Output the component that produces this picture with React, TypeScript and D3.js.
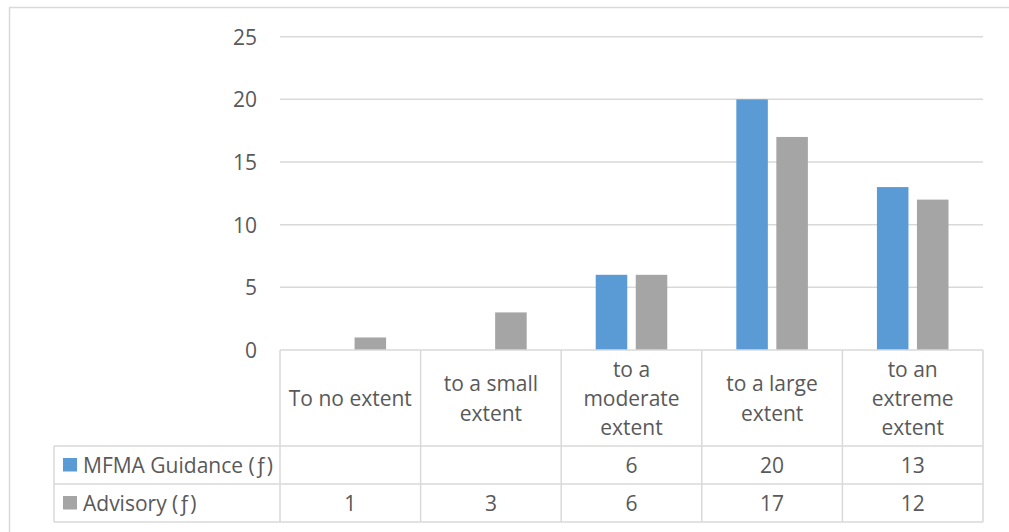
import React from "react";
import * as d3 from "d3";

const categories = [
  "To no extent",
  "to a small extent",
  "to a moderate extent",
  "to a large extent",
  "to an extreme extent",
];
const seriesNames = ["MFMA Guidance (ƒ)", "Advisory (ƒ)"];
const mfmaValues: (number | null)[] = [null, null, 6, 20, 13];
const advisoryValues: (number | null)[] = [1, 3, 6, 17, 12];
const yTicks = [0, 5, 10, 15, 20, 25];

const colors = ["#5B9BD5", "#A5A5A5"];
const FONT = "'Open Sans', sans-serif";
const FONT_SIZE = 21;
const TEXT = "#595959";
const LINE = "#D9D9D9";

const W = 1009;
const H = 532;
const plotLeft = 280;
const plotRight = 983;
const plotTop = 36.7;
const axisY = 350;
const catRowBottom = 446;
const row1Bottom = 484;
const row2Bottom = 522;
const legendLeft = 54;

let ctx: CanvasRenderingContext2D | null = null;
function measure(s: string): number {
  if (!ctx) {
    const c = document.createElement("canvas");
    ctx = c.getContext("2d");
  }
  if (!ctx) return s.length * FONT_SIZE * 0.5;
  ctx.font = `${FONT_SIZE}px ${FONT}`;
  return ctx.measureText(s).width;
}

function wrap(label: string, maxW: number): string[] {
  const words = label.split(" ");
  const lines: string[] = [];
  let cur = "";
  for (const w of words) {
    const t = cur ? cur + " " + w : w;
    if (cur && measure(t) > maxW) {
      lines.push(cur);
      cur = w;
    } else {
      cur = t;
    }
  }
  if (cur) lines.push(cur);
  return lines;
}

export default function App() {
  const x = d3.scaleBand<string>().domain(categories).range([plotLeft, plotRight]);
  const y = d3.scaleLinear().domain([0, 25]).range([axisY, plotTop]);
  const bw = x.bandwidth();
  // Excel-like clustered bars: gap width 219%, overlap -27%
  const barW = bw / (2 + 0.27 + 2.19);
  const groupOffset = (bw - barW * 2.27) / 2;
  const series = [mfmaValues, advisoryValues];
  const lineH = 29.3;
  const catMid = 398;

  return (
    <svg
      width={W}
      height={H}
      style={{ position: "absolute", left: 0, top: 0, background: "#fff" }}
      fontFamily={FONT}
      fontSize={FONT_SIZE}
    >
      <rect x={0} y={0} width={W} height={H} fill="#fff" />
      {/* chart area border */}
      <rect x={9.5} y={7.5} width={1200} height={700} fill="none" stroke={LINE} strokeWidth={1.5} />

      {/* gridlines */}
      {yTicks.filter((t) => t > 0).map((t) => (
        <line key={t} x1={plotLeft} x2={plotRight} y1={y(t)} y2={y(t)} stroke={LINE} strokeWidth={1.5} />
      ))}

      {/* y tick labels */}
      {yTicks.map((t) => (
        <text key={t} x={257} y={y(t)} textAnchor="end" dominantBaseline="central" fill={TEXT}>
          {t}
        </text>
      ))}

      {/* bars */}
      {series.map((vals, si) =>
        vals.map((v, i) =>
          v == null ? null : (
            <rect
              key={`${si}-${i}`}
              x={(x(categories[i]) as number) + groupOffset + si * barW * 1.27}
              y={y(v)}
              width={barW}
              height={y(0) - y(v)}
              fill={colors[si]}
            />
          )
        )
      )}

      {/* data table lines */}
      <g stroke={LINE} strokeWidth={1.5}>
        <line x1={plotLeft} x2={plotRight} y1={axisY} y2={axisY} />
        <line x1={legendLeft} x2={plotRight} y1={catRowBottom} y2={catRowBottom} />
        <line x1={legendLeft} x2={plotRight} y1={row1Bottom} y2={row1Bottom} />
        <line x1={legendLeft} x2={plotRight} y1={row2Bottom} y2={row2Bottom} />
        <line x1={legendLeft} x2={legendLeft} y1={catRowBottom} y2={row2Bottom} />
        {categories.map((c) => (
          <line key={c} x1={x(c)} x2={x(c)} y1={axisY} y2={row2Bottom} />
        ))}
        <line x1={plotRight} x2={plotRight} y1={axisY} y2={row2Bottom} />
      </g>

      {/* category labels */}
      {categories.map((c) => {
        const lines = wrap(c, 128);
        const cx = (x(c) as number) + bw / 2;
        const start = catMid - ((lines.length - 1) * lineH) / 2;
        return (
          <text key={c} textAnchor="middle" fill={TEXT}>
            {lines.map((l, li) => (
              <tspan key={li} x={cx} y={start + li * lineH} dominantBaseline="central">
                {l}
              </tspan>
            ))}
          </text>
        );
      })}

      {/* legend keys and table values */}
      {series.map((vals, si) => {
        const top = si === 0 ? catRowBottom : row1Bottom;
        const bottom = si === 0 ? row1Bottom : row2Bottom;
        const mid = (top + bottom) / 2;
        return (
          <g key={si}>
            <rect x={63} y={mid - 7} width={14} height={13.5} fill={colors[si]} />
            <text x={83} y={mid} dominantBaseline="central" fill={TEXT}>
              {seriesNames[si]}
            </text>
            {vals.map((v, i) =>
              v == null ? null : (
                <text
                  key={i}
                  x={(x(categories[i]) as number) + bw / 2}
                  y={mid}
                  textAnchor="middle"
                  dominantBaseline="central"
                  fill={TEXT}
                >
                  {v}
                </text>
              )
            )}
          </g>
        );
      })}
    </svg>
  );
}
